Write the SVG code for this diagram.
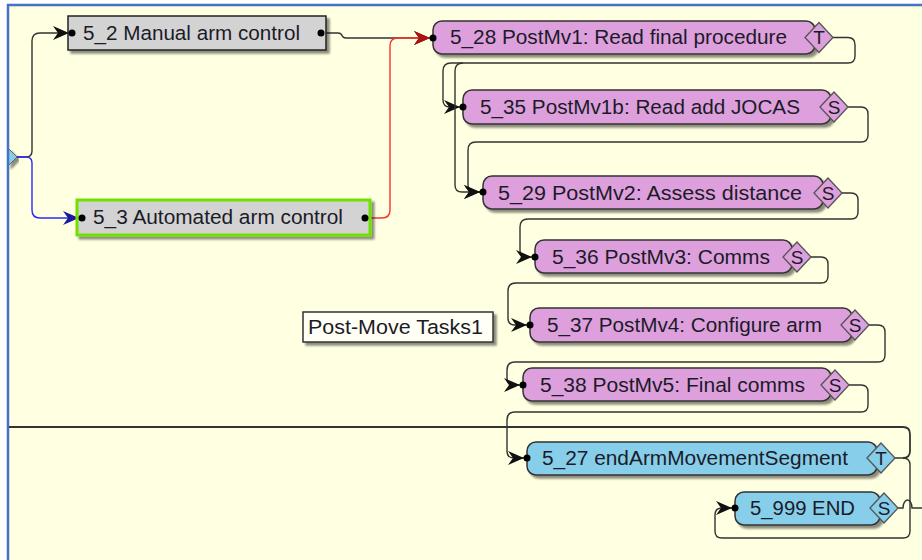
<svg xmlns="http://www.w3.org/2000/svg" width="922" height="560" viewBox="0 0 922 560">
<defs>
<filter id="sh" x="-10%" y="-20%" width="130%" height="160%">
<feDropShadow dx="3" dy="3" stdDeviation="1.2" flood-color="#000" flood-opacity="0.45"/>
</filter>
<marker id="ak" markerUnits="userSpaceOnUse" markerWidth="16" markerHeight="14" refX="16" refY="7" orient="auto" viewBox="0 0 16 14">
<path d="M0,0 L16,7 L0,14 L5,7 Z" fill="#111"/>
</marker>
<marker id="ab" markerUnits="userSpaceOnUse" markerWidth="16" markerHeight="14" refX="16" refY="7" orient="auto" viewBox="0 0 16 14">
<path d="M0,0 L16,7 L0,14 L5,7 Z" fill="#1a1aa0"/>
</marker>
<marker id="ar" markerUnits="userSpaceOnUse" markerWidth="16" markerHeight="14" refX="16" refY="7" orient="auto" viewBox="0 0 16 14">
<path d="M0,0 L16,7 L0,14 L5,7 Z" fill="#b01010"/>
</marker>
</defs>
<style>
.bg{fill:#FFFFE1}
.frame{stroke:#4472C4;stroke-width:2.5;fill:none}
.c{fill:none;stroke:#333;stroke-width:1.4}
.ck{marker-end:url(#ak)}
.gray{fill:#D3D3D3;stroke:#222;stroke-width:1.5;filter:url(#sh)}
.green{fill:#D3D3D3;stroke:#6FE000;stroke-width:3;filter:url(#sh)}
.pink{fill:#DDA0DD;stroke:#333;stroke-width:1.5;filter:url(#sh)}
.blue{fill:#87CEEB;stroke:#333;stroke-width:1.5;filter:url(#sh)}
.dpink{fill:#DDA0DD;stroke:#555;stroke-width:1.3}
.dblue{fill:#87CEEB;stroke:#555;stroke-width:1.3}
.label{fill:#FFFFF6;stroke:#333;stroke-width:1.5;filter:url(#sh)}
.dot{fill:#000}
text{font-family:"Liberation Sans",Arial,sans-serif;font-size:20.5px;fill:#1b1b28}
.dl{font-size:19px;text-anchor:middle}
</style>
<rect x="0" y="0" width="922" height="560" fill="#fff"/>
<rect class="bg" x="8" y="5" width="914" height="555"/>
<polygon points="8,148 17,157 8,166" fill="#87CEEB" stroke="#666" stroke-width="1" filter="url(#sh)"/>
<path class="frame" d="M8,560 V5 H922"/>

<g id="connectors">
<path class="c ck" d="M17,157 H26 Q32,157 32,151 V41 Q32,33 40,33 H69"/>
<path class="c" style="stroke:#2a2aff;marker-end:url(#ab)" d="M17,157 H26 Q32,157 32,163 V210 Q32,218 40,218 H79"/>
<path class="c ck" d="M322,33 H338 Q341,33 342,35.5 Q343,38 346,38 H430"/>
<path class="c" style="stroke:#ff3030;marker-end:url(#ar)" d="M369,218 H382 Q390,218 390,210 V46 Q390,38 398,38 H430"/>
<path class="c ck" d="M833,37.5 H848 Q855,37.5 855,45 V56 Q855,63 848,63 H451 Q443,63 443,71 V100 Q443,107 450,107 H460"/>
<path class="c ck" d="M463,63 Q455,63 455,71 V185 Q455,192 462,192 H480"/>
<path class="c ck" d="M848,107 H861 Q868,107 868,114 V135 Q868,142 861,142 H476 Q468,142 468,150 V185 Q468,192 475,192 H480"/>
<path class="c ck" d="M842,193 H851 Q858,193 858,200 V212 Q858,219 851,219 H528 Q520,219 520,227 V250 Q520,257 527,257 H532"/>
<path class="c ck" d="M811,257 H821 Q828,257 828,264 V276 Q828,283 821,283 H516 Q508,283 508,291 V318 Q508,325 515,325 H527"/>
<path class="c ck" d="M869,325 H878 Q885,325 885,332 V355 Q885,362 878,362 H515 Q507,362 507,370 V378 Q507,385 514,385 H520"/>
<path class="c ck" d="M849,385 H861 Q868,385 868,392 V405 Q868,412 861,412 H515 Q507,412 507,420 V451 Q507,458 514,458 H524"/>
<path class="c" style="stroke-width:1.8" d="M9,427 H903 Q910,427 910,434 V451 Q910,458 903,458"/>
<path class="c ck" d="M895,458 H903 Q910,458 910,465 V531 Q910,538 903,538 H722 Q715,538 715,531 V515 Q715,508 722,508 H732"/>
<path class="c" d="M898,508 H903 A4.5,8 0 0 1 912,508 H922"/>
</g>

<g id="n5_2">
<rect class="gray" x="68" y="16" width="258" height="34"/>
<circle class="dot" cx="72" cy="33" r="3.5"/>
<circle class="dot" cx="321" cy="33" r="3.5"/>
<text x="83" y="40" textLength="217" lengthAdjust="spacingAndGlyphs">5_2 Manual arm control</text>
</g>
<g id="n5_3">
<rect class="green" x="77" y="200" width="293" height="35"/>
<circle class="dot" cx="82" cy="218" r="3.5"/>
<circle class="dot" cx="365" cy="218" r="3.5"/>
<text x="93" y="224" textLength="250" lengthAdjust="spacingAndGlyphs">5_3 Automated arm control</text>
</g>
<g id="n5_28">
<rect class="pink" x="433" y="21" width="382" height="33" rx="9"/>
<polygon class="dpink" points="805,37.5 819,22.5 833,37.5 819,52.5"/>
<circle class="dot" cx="433" cy="38" r="3.5"/>
<text x="450" y="44" textLength="337" lengthAdjust="spacingAndGlyphs">5_28 PostMv1: Read final procedure</text>
<text class="dl" x="819" y="44">T</text>
</g>
<g id="n5_35">
<rect class="pink" x="463" y="90" width="368" height="34" rx="9"/>
<polygon class="dpink" points="820,107 834,92 848,107 834,122"/>
<circle class="dot" cx="463" cy="107" r="3.5"/>
<text x="480" y="114" textLength="320" lengthAdjust="spacingAndGlyphs">5_35 PostMv1b: Read add JOCAS</text>
<text class="dl" x="834" y="113.5">S</text>
</g>
<g id="n5_29">
<rect class="pink" x="483" y="176" width="340" height="33" rx="9"/>
<polygon class="dpink" points="814,193 828,178 842,193 828,208"/>
<circle class="dot" cx="483" cy="192" r="3.5"/>
<text x="498" y="200" textLength="304" lengthAdjust="spacingAndGlyphs">5_29 PostMv2: Assess distance</text>
<text class="dl" x="828" y="199.5">S</text>
</g>
<g id="n5_36">
<rect class="pink" x="535" y="240" width="257" height="33" rx="9"/>
<polygon class="dpink" points="783,257 797,242 811,257 797,272"/>
<circle class="dot" cx="535" cy="257" r="3.5"/>
<text x="552" y="264" textLength="218" lengthAdjust="spacingAndGlyphs">5_36 PostMv3: Comms</text>
<text class="dl" x="797" y="263.5">S</text>
</g>
<g id="n5_37">
<rect class="pink" x="530" y="308" width="322" height="34" rx="9"/>
<polygon class="dpink" points="841,325 855,310 869,325 855,340"/>
<circle class="dot" cx="530" cy="325" r="3.5"/>
<text x="547" y="332" textLength="275" lengthAdjust="spacingAndGlyphs">5_37 PostMv4: Configure arm</text>
<text class="dl" x="855" y="331.5">S</text>
</g>
<g id="n5_38">
<rect class="pink" x="523" y="368" width="308" height="33" rx="9"/>
<polygon class="dpink" points="821,385 835,370 849,385 835,400"/>
<circle class="dot" cx="523" cy="385" r="3.5"/>
<text x="540" y="392" textLength="265" lengthAdjust="spacingAndGlyphs">5_38 PostMv5: Final comms</text>
<text class="dl" x="835" y="391.5">S</text>
</g>
<g id="n5_27">
<rect class="blue" x="527" y="442" width="350" height="33" rx="9"/>
<polygon class="dblue" points="867,458 881,443 895,458 881,473"/>
<circle class="dot" cx="527" cy="458" r="3.5"/>
<text x="542" y="465" textLength="306" lengthAdjust="spacingAndGlyphs">5_27 endArmMovementSegment</text>
<text class="dl" x="881" y="464.5">T</text>
</g>
<g id="n5_999">
<rect class="blue" x="735" y="492" width="145" height="33" rx="9"/>
<polygon class="dblue" points="870,508 884,493 898,508 884,523"/>
<circle class="dot" cx="735" cy="508" r="3.5"/>
<text x="750" y="515" textLength="105" lengthAdjust="spacingAndGlyphs">5_999 END</text>
<text class="dl" x="884" y="514.5">S</text>
</g>
<g id="label_postmove">
<rect class="label" x="303" y="312" width="190" height="30"/>
<text x="308" y="334" textLength="175" lengthAdjust="spacingAndGlyphs">Post-Move Tasks1</text>
</g>
</svg>
